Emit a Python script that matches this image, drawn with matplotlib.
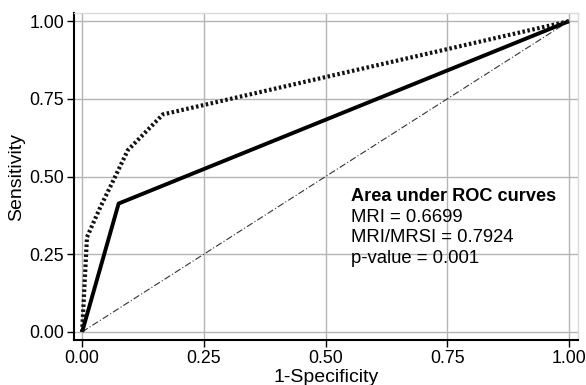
import matplotlib
matplotlib.use('Agg')
import matplotlib.pyplot as plt

plt.rcParams['font.family'] = ['Liberation Sans', 'DejaVu Sans']

# ROC curve points
mri_fpr = [0.0, 0.075, 1.0]
mri_tpr = [0.0, 0.413, 1.0]

mrsi_fpr = [0.0, 0.01, 0.037, 0.068, 0.094, 0.166, 1.0]
mrsi_tpr = [0.0, 0.305, 0.40, 0.50, 0.585, 0.70, 1.0]

ref_line = [0.0, 1.0]

ticks = [0.0, 0.25, 0.5, 0.75, 1.0]
tick_labels = ['0.00', '0.25', '0.50', '0.75', '1.00']

auc_lines = ['MRI = 0.6699', 'MRI/MRSI = 0.7924', 'p-value = 0.001']

fig = plt.figure(figsize=(5.86, 3.85), dpi=100)
ax = fig.add_axes([0.126, 0.117, 0.86, 0.849])

ax.plot(ref_line, ref_line, color='#333333', linestyle=(0, (6, 2, 1, 2)), linewidth=0.8)
ax.plot(mri_fpr, mri_tpr, color='black', linewidth=2.8, solid_capstyle='butt')
ax.plot(mrsi_fpr, mrsi_tpr, color='#111111', linewidth=3, linestyle=(0, (0.6, 0.6)))

ax.set_xlim(-0.017, 1.018)
ax.set_ylim(-0.026, 1.026)
ax.set_xticks(ticks)
ax.set_xticklabels(tick_labels)
ax.set_yticks(ticks)
ax.set_yticklabels(tick_labels)
ax.tick_params(direction='out', length=5, width=1, labelsize=12.8, colors='black', pad=2)
ax.grid(True, color='#b5b5b5', linewidth=1)
ax.set_axisbelow(True)

for s in ['left', 'bottom']:
    ax.spines[s].set_linewidth(1.5)
    ax.spines[s].set_color('black')
for s in ['top', 'right']:
    ax.spines[s].set_color('#d9d9d9')
    ax.spines[s].set_linewidth(1)

ax.set_xlabel('1-Specificity', fontsize=14, labelpad=1.5)
ax.set_ylabel('Sensitivity', fontsize=14, labelpad=3)

ax.text(0.553, 0.435, 'Area under ROC curves', fontsize=13.1, fontweight='bold', va='center')
for i, line in enumerate(auc_lines):
    ax.text(0.553, 0.369 - i * 0.066, line, fontsize=13.3, va='center')

plt.savefig('out.png', dpi=100)
plt.close()
